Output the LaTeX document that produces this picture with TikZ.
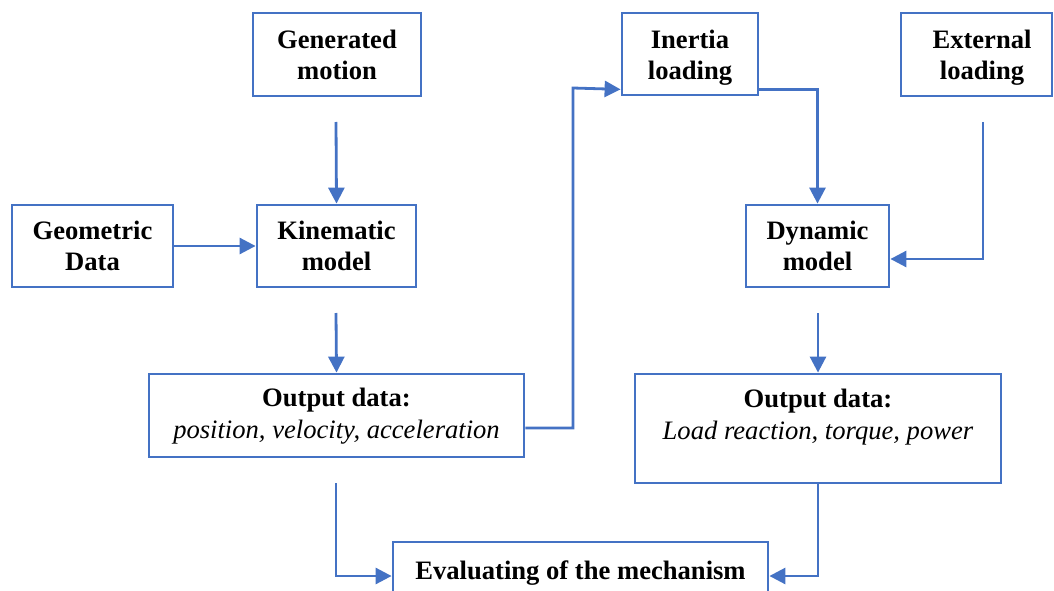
\documentclass[tikz,border=0pt]{standalone}
\usepackage{fontspec}
\setmainfont{Liberation Serif}
\usetikzlibrary{arrows.meta,calc}
\definecolor{obl}{HTML}{4472C4}
\tikzset{
  box/.style={draw=obl, line width=2.8pt, fill=white, inner sep=0pt, align=center,
    font=\fontsize{26.6}{31}\selectfont\bfseries},
  txt/.style={inner sep=0pt, align=center, font=\fontsize{26.6}{32}\selectfont},
  conn/.style={draw=obl, line width=2.8pt, -{Triangle[length=16pt,width=16pt]}}
}
\begin{document}
\begin{tikzpicture}[x=1pt,y=-1pt]
\useasboundingbox (0,0) rectangle (1054,591);
\clip (0,0) rectangle (1054,591);
% boxes
\node[box, minimum width=168, minimum height=83] (gen) at (337,54.5) {Generated\\motion};
\node[box, minimum width=136, minimum height=82] (inert) at (690,54) {};
\node[txt, font=\fontsize{26.6}{31}\selectfont\bfseries] (inertt) at (690,58) {Inertia\\loading};
\node[box, minimum width=151, minimum height=83] (ext) at (976.5,54.5) {};
\node[txt, font=\fontsize{26.6}{31}\selectfont\bfseries] (extt) at (982,58) {External\\loading};
\node[box, minimum width=161, minimum height=82] (geo) at (92.5,246) {Geometric\\Data};
\node[box, minimum width=159, minimum height=82] (kin) at (336.5,246) {Kinematic\\model};
\node[box, minimum width=143, minimum height=82] (dyn) at (817.5,246) {Dynamic\\model};
\node[box, minimum width=375, minimum height=83] (out1) at (336.5,415.5) {};
\node[txt] (out1t) at (336.5,416) {\textbf{Output data:}\\\textit{position, velocity, acceleration}};
\node[box, minimum width=366, minimum height=109] (out2) at (818,428.5) {};
\node[txt] (out2t) at (818,417) {\textbf{Output data:}\\\textit{Load reaction, torque, power}};
\node[box, minimum width=375, minimum height=58] (eval) at (580.5,571) {};
\node[txt, font=\fontsize{26.6}{31}\selectfont\bfseries] (evalt) at (580.5,573) {Evaluating of the mechanism};
% connector start points
\coordinate (g1) at (336,122);
\coordinate (k1) at (336,313);
\coordinate (d1) at (818,313);
\coordinate (e1) at (983,122);
\coordinate (o1) at (336,483);
% connectors
\draw[conn] (g1) -- (kin.north);
\draw[conn] (geo.east) -- (kin.west);
\draw[conn] (k1) -- (out1.north);
\draw[conn] ($(out1.east)+(0,12.5)$) -| (573,88) -- ($(inert.south west)+(0,-7)$);
\draw[conn] ($(inert.south east)+(0,-7)$) -| (dyn.north);
\draw[conn] (e1) |- ($(dyn.east)+(0,13)$);
\draw[conn] (d1) -- (out2.north);
\draw[conn] (o1) |- ($(eval.west)+(0,5)$);
\draw[conn] (out2.south) |- ($(eval.east)+(0,5)$);
\end{tikzpicture}
\end{document}
